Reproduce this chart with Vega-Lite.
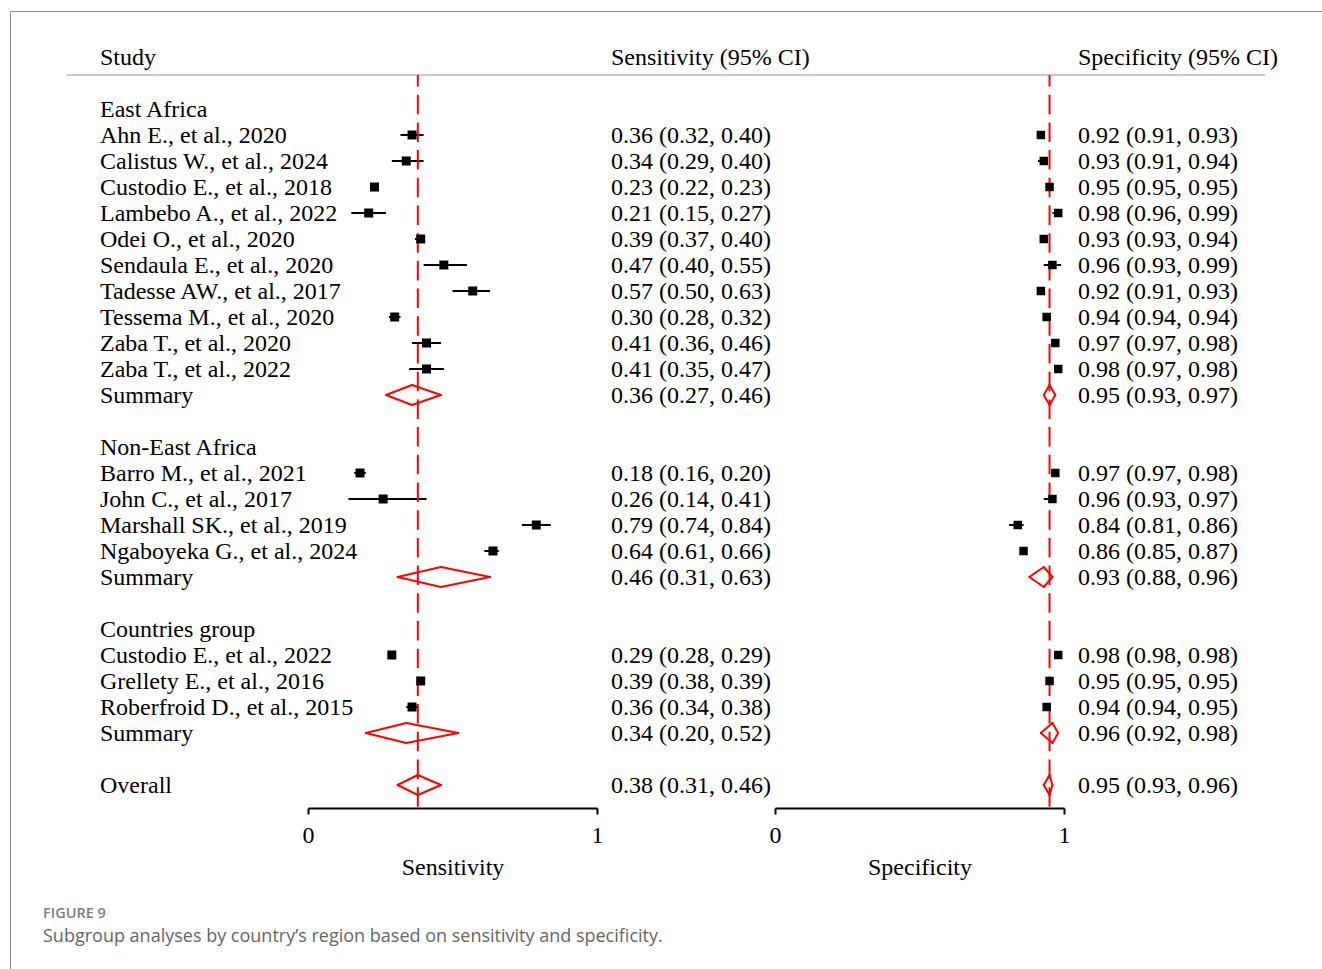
{
  "$schema": "https://vega.github.io/schema/vega-lite/v6.json",
  "width": 1312,
  "height": 958,
  "autosize": "none",
  "padding": {"left": 10, "top": 11, "right": 0, "bottom": 0},
  "background": "white",
  "config": {
    "view": {"stroke": "#8a8a8a", "strokeWidth": 1},
    "axis": {
      "labelFont": "Liberation Serif", "labelFontSize": 24, "labelColor": "#000",
      "titleFont": "Liberation Serif", "titleFontSize": 24, "titleFontWeight": "normal", "titleColor": "#000",
      "domainColor": "#000", "domainWidth": 2, "tickColor": "#000", "tickWidth": 2, "tickSize": 6,
      "grid": false, "labelPadding": 9, "titlePadding": 8, "labelFlush": false, "format": "d"
    }
  },
  "title": {
    "text": "FIGURE 9",
    "subtitle": "Subgroup analyses by country’s region based on sensitivity and specificity.",
    "orient": "bottom", "anchor": "start", "frame": "group", "offset": -62, "dx": 33,
    "font": "Open Sans", "fontSize": 14.5, "fontWeight": 600, "color": "#808080",
    "subtitleFont": "Open Sans", "subtitleFontSize": 18, "subtitleColor": "#666666", "subtitlePadding": 6
  },
  "datasets": {
    "rows": [
      {"row": -2, "kind": "head", "label": "Study", "stxt": "Sensitivity (95% CI)", "ptxt": "Specificity (95% CI)"},
      {"row": 0, "kind": "group", "label": "East Africa"},
      {"row": 1, "kind": "study", "label": "Ahn E., et al., 2020", "sens": 0.36, "slo": 0.32, "shi": 0.40, "spec": 0.92, "plo": 0.91, "phi": 0.93, "stxt": "0.36 (0.32, 0.40)", "ptxt": "0.92 (0.91, 0.93)"},
      {"row": 2, "kind": "study", "label": "Calistus W., et al., 2024", "sens": 0.34, "slo": 0.29, "shi": 0.40, "spec": 0.93, "plo": 0.91, "phi": 0.94, "stxt": "0.34 (0.29, 0.40)", "ptxt": "0.93 (0.91, 0.94)"},
      {"row": 3, "kind": "study", "label": "Custodio E., et al., 2018", "sens": 0.23, "slo": 0.22, "shi": 0.23, "spec": 0.95, "plo": 0.95, "phi": 0.95, "stxt": "0.23 (0.22, 0.23)", "ptxt": "0.95 (0.95, 0.95)"},
      {"row": 4, "kind": "study", "label": "Lambebo A., et al., 2022", "sens": 0.21, "slo": 0.15, "shi": 0.27, "spec": 0.98, "plo": 0.96, "phi": 0.99, "stxt": "0.21 (0.15, 0.27)", "ptxt": "0.98 (0.96, 0.99)"},
      {"row": 5, "kind": "study", "label": "Odei O., et al., 2020", "sens": 0.39, "slo": 0.37, "shi": 0.40, "spec": 0.93, "plo": 0.93, "phi": 0.94, "stxt": "0.39 (0.37, 0.40)", "ptxt": "0.93 (0.93, 0.94)"},
      {"row": 6, "kind": "study", "label": "Sendaula E., et al., 2020", "sens": 0.47, "slo": 0.40, "shi": 0.55, "spec": 0.96, "plo": 0.93, "phi": 0.99, "stxt": "0.47 (0.40, 0.55)", "ptxt": "0.96 (0.93, 0.99)"},
      {"row": 7, "kind": "study", "label": "Tadesse AW., et al., 2017", "sens": 0.57, "slo": 0.50, "shi": 0.63, "spec": 0.92, "plo": 0.91, "phi": 0.93, "stxt": "0.57 (0.50, 0.63)", "ptxt": "0.92 (0.91, 0.93)"},
      {"row": 8, "kind": "study", "label": "Tessema M., et al., 2020", "sens": 0.30, "slo": 0.28, "shi": 0.32, "spec": 0.94, "plo": 0.94, "phi": 0.94, "stxt": "0.30 (0.28, 0.32)", "ptxt": "0.94 (0.94, 0.94)"},
      {"row": 9, "kind": "study", "label": "Zaba T., et al., 2020", "sens": 0.41, "slo": 0.36, "shi": 0.46, "spec": 0.97, "plo": 0.97, "phi": 0.98, "stxt": "0.41 (0.36, 0.46)", "ptxt": "0.97 (0.97, 0.98)"},
      {"row": 10, "kind": "study", "label": "Zaba T., et al., 2022", "sens": 0.41, "slo": 0.35, "shi": 0.47, "spec": 0.98, "plo": 0.97, "phi": 0.98, "stxt": "0.41 (0.35, 0.47)", "ptxt": "0.98 (0.97, 0.98)"},
      {"row": 11, "kind": "summary", "label": "Summary", "sens": 0.36, "slo": 0.27, "shi": 0.46, "spec": 0.95, "plo": 0.93, "phi": 0.97, "stxt": "0.36 (0.27, 0.46)", "ptxt": "0.95 (0.93, 0.97)"},
      {"row": 13, "kind": "group", "label": "Non-East Africa"},
      {"row": 14, "kind": "study", "label": "Barro M., et al., 2021", "sens": 0.18, "slo": 0.16, "shi": 0.20, "spec": 0.97, "plo": 0.97, "phi": 0.98, "stxt": "0.18 (0.16, 0.20)", "ptxt": "0.97 (0.97, 0.98)"},
      {"row": 15, "kind": "study", "label": "John C., et al., 2017", "sens": 0.26, "slo": 0.14, "shi": 0.41, "spec": 0.96, "plo": 0.93, "phi": 0.97, "stxt": "0.26 (0.14, 0.41)", "ptxt": "0.96 (0.93, 0.97)"},
      {"row": 16, "kind": "study", "label": "Marshall SK., et al., 2019", "sens": 0.79, "slo": 0.74, "shi": 0.84, "spec": 0.84, "plo": 0.81, "phi": 0.86, "stxt": "0.79 (0.74, 0.84)", "ptxt": "0.84 (0.81, 0.86)"},
      {"row": 17, "kind": "study", "label": "Ngaboyeka G., et al., 2024", "sens": 0.64, "slo": 0.61, "shi": 0.66, "spec": 0.86, "plo": 0.85, "phi": 0.87, "stxt": "0.64 (0.61, 0.66)", "ptxt": "0.86 (0.85, 0.87)"},
      {"row": 18, "kind": "summary", "label": "Summary", "sens": 0.46, "slo": 0.31, "shi": 0.63, "spec": 0.93, "plo": 0.88, "phi": 0.96, "stxt": "0.46 (0.31, 0.63)", "ptxt": "0.93 (0.88, 0.96)"},
      {"row": 20, "kind": "group", "label": "Countries group"},
      {"row": 21, "kind": "study", "label": "Custodio E., et al., 2022", "sens": 0.29, "slo": 0.28, "shi": 0.29, "spec": 0.98, "plo": 0.98, "phi": 0.98, "stxt": "0.29 (0.28, 0.29)", "ptxt": "0.98 (0.98, 0.98)"},
      {"row": 22, "kind": "study", "label": "Grellety E., et al., 2016", "sens": 0.39, "slo": 0.38, "shi": 0.39, "spec": 0.95, "plo": 0.95, "phi": 0.95, "stxt": "0.39 (0.38, 0.39)", "ptxt": "0.95 (0.95, 0.95)"},
      {"row": 23, "kind": "study", "label": "Roberfroid D., et al., 2015", "sens": 0.36, "slo": 0.34, "shi": 0.38, "spec": 0.94, "plo": 0.94, "phi": 0.95, "stxt": "0.36 (0.34, 0.38)", "ptxt": "0.94 (0.94, 0.95)"},
      {"row": 24, "kind": "summary", "label": "Summary", "sens": 0.34, "slo": 0.20, "shi": 0.52, "spec": 0.96, "plo": 0.92, "phi": 0.98, "stxt": "0.34 (0.20, 0.52)", "ptxt": "0.96 (0.92, 0.98)"},
      {"row": 26, "kind": "overall", "label": "Overall", "sens": 0.38, "slo": 0.31, "shi": 0.46, "spec": 0.95, "plo": 0.93, "phi": 0.96, "stxt": "0.38 (0.31, 0.46)", "ptxt": "0.95 (0.93, 0.96)"}
    ]
  },
  "data": {"name": "rows"},
  "encoding": {
    "y": {"field": "row", "type": "quantitative", "scale": {"domain": [-3.76923, 33.07692], "reverse": true, "nice": false, "zero": false}, "axis": null}
  },
  "layer": [
    {
      "transform": [{"filter": "datum.kind == 'head'"}],
      "mark": {"type": "rule", "color": "#c8c8c8", "strokeWidth": 2, "yOffset": 18},
      "encoding": {"x": {"value": 57}, "x2": {"value": 1255}}
    },
    {
      "transform": [{"filter": "datum.kind == 'study'"}],
      "mark": {"type": "rule", "color": "#000", "strokeWidth": 2},
      "encoding": {
        "x": {"field": "slo", "type": "quantitative", "scale": {"domain": [0, 1], "range": [298, 587], "nice": false, "zero": false}, "axis": {"orient": "bottom", "offset": -161, "values": [0, 1], "title": "Sensitivity"}},
        "x2": {"field": "shi"}
      }
    },
    {
      "transform": [{"filter": "datum.kind == 'overall'"}],
      "mark": {"type": "rule", "color": "#ff0000", "strokeWidth": 2, "strokeDash": [19.5, 8.2], "strokeDashOffset": 8},
      "encoding": {
        "x": {"field": "sens", "type": "quantitative", "scale": {"domain": [0, 1], "range": [298, 587], "nice": false, "zero": false}, "axis": null},
        "y": {"datum": -1.3077, "type": "quantitative"},
        "y2": {"datum": 26.885}
      }
    },
    {
      "transform": [{"filter": "datum.kind == 'study'"}],
      "mark": {"type": "point", "shape": "square", "filled": true, "color": "#000", "size": 81, "opacity": 1},
      "encoding": {
        "x": {"field": "sens", "type": "quantitative", "scale": {"domain": [0, 1], "range": [298, 587], "nice": false, "zero": false}, "axis": null}
      }
    },
    {
      "transform": [{"filter": "datum.kind == 'summary' || datum.kind == 'overall'"}],
      "mark": {"type": "rule", "color": "#ff0000", "strokeWidth": 2, "strokeCap": "round", "y2Offset": -10},
      "encoding": {
        "x": {"field": "slo", "type": "quantitative", "scale": {"domain": [0, 1], "range": [298, 587], "nice": false, "zero": false}, "axis": null},
        "x2": {"field": "sens"}, "y2": {"field": "row"}
      }
    },
    {
      "transform": [{"filter": "datum.kind == 'summary' || datum.kind == 'overall'"}],
      "mark": {"type": "rule", "color": "#ff0000", "strokeWidth": 2, "strokeCap": "round", "y2Offset": 10},
      "encoding": {
        "x": {"field": "slo", "type": "quantitative", "scale": {"domain": [0, 1], "range": [298, 587], "nice": false, "zero": false}, "axis": null},
        "x2": {"field": "sens"}, "y2": {"field": "row"}
      }
    },
    {
      "transform": [{"filter": "datum.kind == 'summary' || datum.kind == 'overall'"}],
      "mark": {"type": "rule", "color": "#ff0000", "strokeWidth": 2, "strokeCap": "round", "y2Offset": -10},
      "encoding": {
        "x": {"field": "shi", "type": "quantitative", "scale": {"domain": [0, 1], "range": [298, 587], "nice": false, "zero": false}, "axis": null},
        "x2": {"field": "sens"}, "y2": {"field": "row"}
      }
    },
    {
      "transform": [{"filter": "datum.kind == 'summary' || datum.kind == 'overall'"}],
      "mark": {"type": "rule", "color": "#ff0000", "strokeWidth": 2, "strokeCap": "round", "y2Offset": 10},
      "encoding": {
        "x": {"field": "shi", "type": "quantitative", "scale": {"domain": [0, 1], "range": [298, 587], "nice": false, "zero": false}, "axis": null},
        "x2": {"field": "sens"}, "y2": {"field": "row"}
      }
    },
    {
      "transform": [{"filter": "datum.kind == 'study'"}],
      "mark": {"type": "rule", "color": "#000", "strokeWidth": 2},
      "encoding": {
        "x": {"field": "plo", "type": "quantitative", "scale": {"domain": [0, 1], "range": [765, 1054], "nice": false, "zero": false}, "axis": {"orient": "bottom", "offset": -161, "values": [0, 1], "title": "Specificity"}},
        "x2": {"field": "phi"}
      }
    },
    {
      "transform": [{"filter": "datum.kind == 'overall'"}],
      "mark": {"type": "rule", "color": "#ff0000", "strokeWidth": 2, "strokeDash": [19.5, 8.2], "strokeDashOffset": 8},
      "encoding": {
        "x": {"field": "spec", "type": "quantitative", "scale": {"domain": [0, 1], "range": [765, 1054], "nice": false, "zero": false}, "axis": null},
        "y": {"datum": -1.3077, "type": "quantitative"},
        "y2": {"datum": 26.885}
      }
    },
    {
      "transform": [{"filter": "datum.kind == 'study'"}],
      "mark": {"type": "point", "shape": "square", "filled": true, "color": "#000", "size": 72, "opacity": 1},
      "encoding": {
        "x": {"field": "spec", "type": "quantitative", "scale": {"domain": [0, 1], "range": [765, 1054], "nice": false, "zero": false}, "axis": null}
      }
    },
    {
      "transform": [{"filter": "datum.kind == 'summary' || datum.kind == 'overall'"}],
      "mark": {"type": "rule", "color": "#ff0000", "strokeWidth": 2, "strokeCap": "round", "y2Offset": -10},
      "encoding": {
        "x": {"field": "plo", "type": "quantitative", "scale": {"domain": [0, 1], "range": [765, 1054], "nice": false, "zero": false}, "axis": null},
        "x2": {"field": "spec"}, "y2": {"field": "row"}
      }
    },
    {
      "transform": [{"filter": "datum.kind == 'summary' || datum.kind == 'overall'"}],
      "mark": {"type": "rule", "color": "#ff0000", "strokeWidth": 2, "strokeCap": "round", "y2Offset": 10},
      "encoding": {
        "x": {"field": "plo", "type": "quantitative", "scale": {"domain": [0, 1], "range": [765, 1054], "nice": false, "zero": false}, "axis": null},
        "x2": {"field": "spec"}, "y2": {"field": "row"}
      }
    },
    {
      "transform": [{"filter": "datum.kind == 'summary' || datum.kind == 'overall'"}],
      "mark": {"type": "rule", "color": "#ff0000", "strokeWidth": 2, "strokeCap": "round", "y2Offset": -10},
      "encoding": {
        "x": {"field": "phi", "type": "quantitative", "scale": {"domain": [0, 1], "range": [765, 1054], "nice": false, "zero": false}, "axis": null},
        "x2": {"field": "spec"}, "y2": {"field": "row"}
      }
    },
    {
      "transform": [{"filter": "datum.kind == 'summary' || datum.kind == 'overall'"}],
      "mark": {"type": "rule", "color": "#ff0000", "strokeWidth": 2, "strokeCap": "round", "y2Offset": 10},
      "encoding": {
        "x": {"field": "phi", "type": "quantitative", "scale": {"domain": [0, 1], "range": [765, 1054], "nice": false, "zero": false}, "axis": null},
        "x2": {"field": "spec"}, "y2": {"field": "row"}
      }
    },
    {
      "transform": [{"filter": "isValid(datum.label)"}],
      "mark": {"type": "text", "align": "left", "baseline": "middle", "dy": 1, "font": "Liberation Serif", "fontSize": 24, "color": "#000"},
      "encoding": {"x": {"value": 90}, "text": {"field": "label"}}
    },
    {
      "transform": [{"filter": "isValid(datum.stxt)"}],
      "mark": {"type": "text", "align": "left", "baseline": "middle", "dy": 1, "font": "Liberation Serif", "fontSize": 24, "color": "#000"},
      "encoding": {"x": {"value": 601}, "text": {"field": "stxt"}}
    },
    {
      "transform": [{"filter": "isValid(datum.ptxt)"}],
      "mark": {"type": "text", "align": "left", "baseline": "middle", "dy": 1, "font": "Liberation Serif", "fontSize": 24, "color": "#000"},
      "encoding": {"x": {"value": 1068}, "text": {"field": "ptxt"}}
    }
  ],
  "resolve": {"scale": {"x": "independent"}, "axis": {"x": "independent"}}
}
